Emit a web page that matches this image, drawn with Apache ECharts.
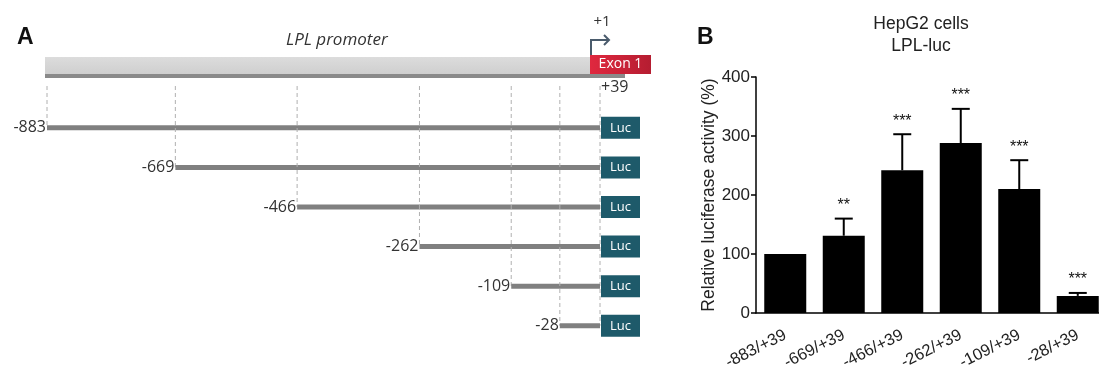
<!DOCTYPE html>
<html><head><meta charset="utf-8">
<script src="https://cdn.jsdelivr.net/npm/echarts@6/dist/echarts.min.js"></script>
<style>html,body{margin:0;padding:0;background:#fff}#c{width:1099px;height:369px}</style>
</head><body><div id="c"></div>
<script>
// ---- Panel A data (bp positions) ----
const constructStarts = [-883, -669, -466, -262, -109, -28];
const constructEnd = 39;
// ---- Panel B data ----
const barCategories = ['-883/+39', '-669/+39', '-466/+39', '-262/+39', '-109/+39', '-28/+39'];
const activityMean = [100, 131, 242, 288, 210, 29];
const activitySD = [0, 29, 61, 58, 49, 5];
const significance = ['', '**', '***', '***', '***', '***'];
const yTickMax = 400;
const yTickStep = 100;

const FA = '"Open Sans", "Noto Sans", sans-serif';
const FB = '"Liberation Sans", Arial, sans-serif';

function renderPromoter(params, api) {
  const top = params.coordSys.y;
  const x0 = api.coord([api.value(0), 0])[0] - 2;
  const xe = api.coord([api.value(1), 0])[0];
  const exonX = xe - 10;
  const ac = '#4a5b6c';
  return {type: 'group', children: [
    {type: 'rect', shape: {x: x0, y: top - 51, width: exonX - x0, height: 17},
      style: {fill: new echarts.graphic.LinearGradient(0, 0, 0, 1, [{offset: 0, color: '#dcdcdc'}, {offset: 1, color: '#cfcfcf'}])}},
    {type: 'rect', shape: {x: x0, y: top - 34, width: xe + 25 - x0, height: 4}, style: {fill: '#8a8a8a'}},
    {type: 'rect', shape: {x: exonX, y: top - 53, width: 61, height: 19},
      style: {fill: new echarts.graphic.LinearGradient(0, 0, 1, 0, [{offset: 0, color: '#e0283f'}, {offset: 1, color: '#b51d31'}])}},
    {type: 'text', style: {text: 'Exon 1', x: exonX + 30.5, y: top - 43.5, fill: '#ffffff', font: '14px ' + FA, align: 'center', verticalAlign: 'middle'}},
    {type: 'polyline', shape: {points: [[exonX + 1, top - 53], [exonX + 1, top - 68], [exonX + 19, top - 68]]}, style: {stroke: ac, lineWidth: 2, fill: null}},
    {type: 'polyline', shape: {points: [[exonX + 14, top - 73], [exonX + 19, top - 68], [exonX + 14, top - 63]]}, style: {stroke: ac, lineWidth: 2, fill: null}},
    {type: 'text', style: {text: '+1', x: exonX + 12, y: top - 86, fill: '#333', font: '15px ' + FA, align: 'center', verticalAlign: 'middle'}},
    {type: 'text', style: {text: '+39', x: xe + 1, y: top - 21, fill: '#333', font: '16px ' + FA, align: 'left', verticalAlign: 'middle'}}
  ]};
}

function renderConstruct(params, api) {
  const top = params.coordSys.y;
  const row = api.value(2);
  const s = api.coord([api.value(0), row]);
  const e = api.coord([api.value(1), row]);
  const children = [
    {type: 'line', shape: {x1: s[0], y1: top - 22, x2: s[0], y2: s[1]}, style: {stroke: '#b0b0b0', lineWidth: 1, lineDash: [4, 3]}},
    {type: 'line', shape: {x1: s[0], y1: s[1], x2: e[0], y2: e[1]}, style: {stroke: '#808080', lineWidth: 5}},
    {type: 'text', style: {text: String(api.value(0)), x: s[0] - 1, y: s[1], align: 'right', verticalAlign: 'middle', font: '16px ' + FA, fill: '#333'}},
    {type: 'rect', shape: {x: e[0] + 1, y: s[1] - 11, width: 39, height: 22}, style: {fill: '#1e5a6a'}},
    {type: 'text', style: {text: 'Luc', x: e[0] + 20.5, y: s[1], align: 'center', verticalAlign: 'middle', font: '13px ' + FA, fill: '#ffffff'}}
  ];
  if (params.dataIndex === 0) {
    const last = api.coord([api.value(1), constructStarts.length - 1]);
    children.unshift({type: 'line', shape: {x1: e[0], y1: top - 22, x2: e[0], y2: last[1]}, style: {stroke: '#b0b0b0', lineWidth: 1, lineDash: [4, 3]}});
  }
  return {type: 'group', children};
}

function renderErr(params, api) {
  const i = api.value(0), m = api.value(1), sd = api.value(2);
  const base = api.coord([i, m]);
  const tp = api.coord([i, m + sd]);
  const children = [];
  if (sd > 0) {
    children.push({type: 'line', shape: {x1: base[0], y1: base[1], x2: tp[0], y2: tp[1]}, style: {stroke: '#000', lineWidth: 2}});
    children.push({type: 'line', shape: {x1: tp[0] - 9, y1: tp[1], x2: tp[0] + 9, y2: tp[1]}, style: {stroke: '#000', lineWidth: 2}});
  }
  const star = significance[params.dataIndex];
  if (star) {
    children.push({type: 'text', style: {text: star, x: tp[0], y: tp[1] - 5, align: 'center', verticalAlign: 'bottom', font: '16px ' + FB, fill: '#111'}});
  }
  return {type: 'group', children};
}

const chart = echarts.init(document.getElementById('c'), null, {renderer: 'canvas'});
chart.setOption({
  animation: false,
  backgroundColor: '#ffffff',
  title: [
    {text: 'A', left: 12, top: 21, textStyle: {fontSize: 23, fontWeight: 'bold', fontFamily: FB, color: '#111'}},
    {text: 'B', left: 692, top: 21, textStyle: {fontSize: 23, fontWeight: 'bold', fontFamily: FB, color: '#111'}},
    {text: 'LPL promoter', left: 281, top: 27, textStyle: {fontSize: 17, fontStyle: 'italic', fontWeight: 'normal', fontFamily: FA, color: '#333'}},
    {text: 'HepG2 cells\nLPL-luc', left: 916, top: 8, textAlign: 'center',
      textStyle: {fontSize: 17.5, fontWeight: 'normal', fontFamily: FB, color: '#222', lineHeight: 22}}
  ],
  grid: [
    {left: 47, top: 108, width: 553, height: 237.6, outerBoundsMode: 'none', containLabel: false},
    {left: 756, top: 77, width: 351, height: 236, outerBoundsMode: 'none', containLabel: false}
  ],
  xAxis: [
    {type: 'value', gridIndex: 0, min: constructStarts[0], max: constructEnd, show: false},
    {type: 'category', gridIndex: 1, data: barCategories,
      axisLine: {show: true, lineStyle: {color: '#000', width: 1.5}},
      axisTick: {show: false},
      axisLabel: {rotate: 27, margin: 21, fontSize: 16.5, fontFamily: FB, color: '#222', interval: 0}}
  ],
  yAxis: [
    {type: 'category', gridIndex: 0, inverse: true, data: constructStarts.map(String), show: false},
    {type: 'value', gridIndex: 1, min: 0, max: yTickMax, interval: yTickStep,
      name: 'Relative luciferase activity (%)', nameLocation: 'middle', nameRotate: 90, nameGap: 32,
      nameTextStyle: {fontSize: 17.5, fontFamily: FB, color: '#222'},
      axisLine: {show: true, lineStyle: {color: '#000', width: 1.5}},
      axisTick: {show: true, length: 5, lineStyle: {color: '#000', width: 1.5}},
      splitLine: {show: false},
      axisLabel: {fontSize: 17, fontFamily: FB, color: '#222', margin: 6}}
  ],
  series: [
    {type: 'custom', xAxisIndex: 0, yAxisIndex: 0, renderItem: renderPromoter,
      data: [[constructStarts[0], constructEnd, 0]], encode: {x: [0, 1], y: 2}, silent: true, clip: false},
    {type: 'custom', xAxisIndex: 0, yAxisIndex: 0, renderItem: renderConstruct,
      data: constructStarts.map((s, i) => [s, constructEnd, i]), encode: {x: [0, 1], y: 2}, silent: true, clip: false, z: 3},
    {type: 'bar', xAxisIndex: 1, yAxisIndex: 1, data: activityMean, barWidth: 42,
      itemStyle: {color: '#000'}, z: 2},
    {type: 'custom', xAxisIndex: 1, yAxisIndex: 1, renderItem: renderErr,
      data: activityMean.map((m, i) => [i, m, activitySD[i]]), encode: {x: 0, y: [1, 2]}, z: 3, clip: false}
  ]
});
</script>
</body></html>
